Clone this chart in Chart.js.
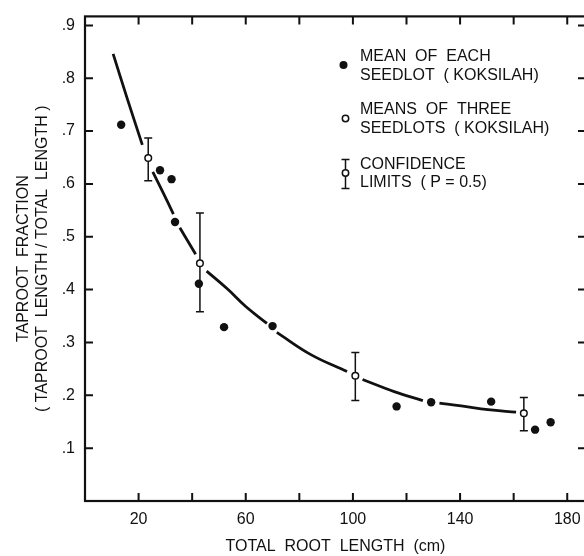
<!DOCTYPE html>
<html>
<head>
<meta charset="utf-8">
<script src="https://cdn.jsdelivr.net/npm/chart.js@4"></script>
<style>
  html, body { margin: 0; padding: 0; background: #fff; overflow: hidden; }
  #wrap { width: 592px; height: 556px; }
</style>
</head>
<body>
<div id="wrap"><canvas id="chart" width="592" height="556"></canvas></div>
<script>
// mean of each seedlot (filled dots)
const seedlotX = [13.5, 28.0, 32.3, 33.6, 42.5, 51.9, 70.0, 116.3, 129.2, 151.6, 168.0, 173.8];
const seedlotY = [0.712, 0.626, 0.609, 0.528, 0.411, 0.329, 0.331, 0.179, 0.187, 0.188, 0.135, 0.149];

// means of three seedlots (open dots) + confidence limits
const meansX = [23.6, 42.9, 100.9, 163.8];
const meansY = [0.649, 0.450, 0.237, 0.166];
const meansLow = [0.606, 0.358, 0.190, 0.133];
const meansHigh = [0.687, 0.545, 0.281, 0.196];

// fitted curve (null = break in the pen line)
const curveX = [10.5, 15.8, 21.4, null, 25.3, 29.1, 33.0, null, 35.4, 41.3, null,
  45.4, 53.2, 60.0, 67.9, null, 71.6, 84.3, 97.8, null, 103.6, 115.4, 126.1, null,
  132.3, 140.4, 150.4, 160.9];
const curveY = [0.846, 0.761, 0.674, null, 0.623, 0.584, 0.543, null, 0.517, 0.467, null,
  0.435, 0.401, 0.368, 0.336, null, 0.319, 0.277, 0.245, null, 0.230, 0.207, 0.190, null,
  0.185, 0.180, 0.173, 0.168];

const xLabelled = [20, 60, 100, 140, 180];
const legendLines = [
  ['MEAN  OF  EACH', 'SEEDLOT  ( KOKSILAH)'],
  ['MEANS  OF  THREE', 'SEEDLOTS  ( KOKSILAH)'],
  ['CONFIDENCE', 'LIMITS  ( P = 0.5)']
];

const INK = '#111';
Chart.defaults.font.family = "'Liberation Sans', Arial, sans-serif";
Chart.defaults.color = INK;

const toPoints = (xs, ys) => xs.map((x, i) => (x === null ? { x: null, y: null } : { x: x, y: ys[i] }));

// frame, inward ticks, error bars, legend
const paperPlugin = {
  id: 'paper',
  beforeDatasetsDraw(chart) {
    const { ctx, scales: { x, y } } = chart;
    ctx.save();
    ctx.strokeStyle = INK;
    ctx.lineWidth = 1.5;
    meansX.forEach((mx, i) => {
      const px = x.getPixelForValue(mx);
      const top = y.getPixelForValue(meansHigh[i]);
      const bot = y.getPixelForValue(meansLow[i]);
      ctx.beginPath();
      ctx.moveTo(px, top); ctx.lineTo(px, bot);
      ctx.moveTo(px - 4, top); ctx.lineTo(px + 4, top);
      ctx.moveTo(px - 4, bot); ctx.lineTo(px + 4, bot);
      ctx.stroke();
    });
    ctx.restore();
  },
  afterDraw(chart) {
    const { ctx, chartArea: a, scales: { x, y } } = chart;
    ctx.save();
    ctx.strokeStyle = INK;
    ctx.lineWidth = 2.2;
    ctx.strokeRect(a.left, a.top, a.right - a.left, a.bottom - a.top);
    ctx.lineWidth = 2;
    ctx.beginPath();
    x.ticks.forEach(t => {
      if (t.value <= x.min) return;
      const px = x.getPixelForValue(t.value);
      ctx.moveTo(px, a.bottom); ctx.lineTo(px, a.bottom - 8);
      ctx.moveTo(px, a.top); ctx.lineTo(px, a.top + 8);
    });
    y.ticks.forEach(t => {
      if (t.value <= y.min) return;
      const py = y.getPixelForValue(t.value);
      ctx.moveTo(a.left, py); ctx.lineTo(a.left + 8, py);
      ctx.moveTo(a.right, py); ctx.lineTo(a.right - 8, py);
    });
    ctx.stroke();

    // legend block
    ctx.fillStyle = INK;
    ctx.font = "16px 'Liberation Sans', Arial, sans-serif";
    ctx.textBaseline = 'middle';
    const tx = 360;
    const rows = [56.7, 110, 164.3];
    rows.forEach((ry, i) => {
      ctx.fillText(legendLines[i][0], tx, ry);
      ctx.fillText(legendLines[i][1], tx, ry + 18.5);
    });
    // symbols
    ctx.beginPath();
    ctx.arc(343.5, 65, 4, 0, Math.PI * 2);
    ctx.fill();
    ctx.lineWidth = 1.5;
    ctx.beginPath();
    ctx.arc(345.5, 118.5, 3.2, 0, Math.PI * 2);
    ctx.fillStyle = '#fff';
    ctx.fill();
    ctx.stroke();
    ctx.beginPath();
    ctx.moveTo(345.5, 159.5); ctx.lineTo(345.5, 188.5);
    ctx.moveTo(341.5, 159.5); ctx.lineTo(349.5, 159.5);
    ctx.moveTo(341.5, 188.5); ctx.lineTo(349.5, 188.5);
    ctx.stroke();
    ctx.beginPath();
    ctx.arc(345.5, 173, 3.2, 0, Math.PI * 2);
    ctx.fill();
    ctx.stroke();
    ctx.restore();
  }
};

new Chart(document.getElementById('chart'), {
  type: 'scatter',
  data: {
    datasets: [
      {
        label: 'curve',
        data: toPoints(curveX, curveY),
        showLine: true,
        spanGaps: false,
        borderColor: INK,
        borderWidth: 2.8,
        tension: 0.4,
        pointRadius: 0,
        order: 3
      },
      {
        label: 'MEAN OF EACH SEEDLOT (KOKSILAH)',
        data: toPoints(seedlotX, seedlotY),
        backgroundColor: INK,
        borderColor: INK,
        borderWidth: 0,
        pointRadius: 4.2,
        order: 2
      },
      {
        label: 'MEANS OF THREE SEEDLOTS (KOKSILAH)',
        data: toPoints(meansX, meansY),
        backgroundColor: '#fff',
        borderColor: INK,
        borderWidth: 1.5,
        pointRadius: 3.3,
        order: 1
      }
    ]
  },
  options: {
    responsive: false,
    animation: false,
    layout: { padding: { top: 16, right: 6, left: 0, bottom: 0 } },
    plugins: { legend: { display: false }, tooltip: { enabled: false } },
    scales: {
      x: {
        type: 'linear',
        min: 0,
        max: 187,
        afterFit: s => { s.height = 55; },
        grid: { display: false, drawTicks: false },
        border: { display: false },
        ticks: {
          stepSize: 20,
          autoSkip: false,
          includeBounds: false,
          maxRotation: 0,
          padding: 9,
          font: { size: 16 },
          callback: v => (xLabelled.includes(v) ? String(v) : '')
        },
        title: {
          display: true,
          text: 'TOTAL  ROOT  LENGTH  (cm)',
          font: { size: 16 },
          padding: { top: 0, bottom: 0 }
        }
      },
      y: {
        min: 0,
        max: 0.917,
        afterFit: s => { s.width = 85; },
        grid: { display: false, drawTicks: false },
        border: { display: false },
        ticks: {
          stepSize: 0.1,
          autoSkip: false,
          includeBounds: false,
          padding: 10,
          font: { size: 16, lineHeight: 0.8 },
          callback: v => (v < 0.05 ? '' : v.toFixed(1).replace('0.', '.'))
        },
        title: {
          display: true,
          text: ['TAPROOT  FRACTION', '( TAPROOT  LENGTH / TOTAL  LENGTH )'],
          font: { size: 16 },
          padding: { top: 14, bottom: 0 }
        }
      }
    }
  },
  plugins: [paperPlugin]
});
</script>
</body>
</html>
